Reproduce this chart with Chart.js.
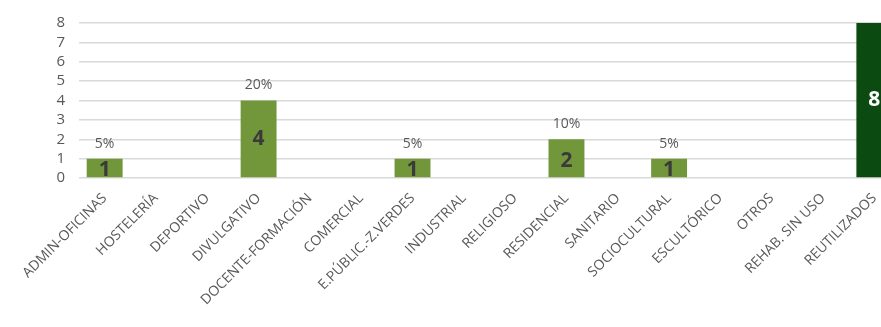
<!DOCTYPE html>
<html>
<head>
<meta charset="utf-8">
<script src="https://cdn.jsdelivr.net/npm/chart.js@4.4.0/dist/chart.umd.min.js"></script>
<style>
  html, body { margin: 0; padding: 0; background: #fff; overflow: hidden; }
  #wrap { width: 900px; height: 327px; position: relative; }
</style>
</head>
<body>
<div id="wrap"><canvas id="usosChart"></canvas></div>
<script>
// Datos del gráfico
const categorias = [
    "ADMIN-OFICINAS", "HOSTELERÍA", "DEPORTIVO", "DIVULGATIVO", "DOCENTE-FORMACIÓN",
    "COMERCIAL", "E.PÚBLIC.-Z.VERDES", "INDUSTRIAL", "RELIGIOSO", "RESIDENCIAL",
    "SANITARIO", "SOCIOCULTURAL", "ESCULTÓRICO", "OTROS", "REHAB. SIN USO", "REUTILIZADOS"
];
const valores = [1, 0, 0, 4, 0, 0, 1, 0, 0, 2, 0, 1, 0, 0, 0, 8];
const porcentajes = ["5%", "", "", "20%", "", "", "5%", "", "", "10%", "", "5%", "", "", "", ""];
const ticksY = [0, 1, 2, 3, 4, 5, 6, 7, 8];

const verdeOliva = "#71973a";
const verdeOscuro = "#0b4b12";

// Plugin: número dentro de la barra y porcentaje encima
const etiquetasBarras = {
    id: "etiquetasBarras",
    afterDatasetsDraw(chart) {
        const ctx = chart.ctx;
        const meta = chart.getDatasetMeta(0);
        ctx.save();
        ctx.textAlign = "center";
        ctx.textBaseline = "middle";
        meta.data.forEach((bar, i) => {
            const v = valores[i];
            if (!v) return;
            const ultimo = i === valores.length - 1;
            // número dentro
            ctx.font = "bold 21px 'Open Sans', sans-serif";
            ctx.fillStyle = ultimo ? "#ffffff" : "#3a3a3a";
            let yNum = (bar.y + bar.base) / 2;
            if (v === 1) yNum = bar.base - 7;
            if (v === 2) yNum = (bar.y + bar.base) / 2 + 3;
            ctx.fillText(String(v), bar.x, yNum);
            // porcentaje encima
            if (porcentajes[i]) {
                ctx.font = "14px 'Open Sans', sans-serif";
                ctx.fillStyle = "#595959";
                ctx.fillText(porcentajes[i], bar.x, bar.y - 15);
            }
        });
        ctx.restore();
    }
};

new Chart(document.getElementById("usosChart"), {
    type: "bar",
    data: {
        labels: categorias,
        datasets: [{
            data: valores,
            backgroundColor: valores.map((v, i) => i === valores.length - 1 ? verdeOscuro : verdeOliva),
            barPercentage: 0.7,
            categoryPercentage: 1.0
        }]
    },
    options: {
        responsive: true,
        maintainAspectRatio: false,
        animation: false,
        layout: { padding: { top: 23, right: 0, left: 0, bottom: 0 } },
        plugins: {
            legend: { display: false },
            tooltip: { enabled: false }
        },
        scales: {
            y: {
                min: 0,
                max: 8,
                afterBuildTicks: (scale) => { scale.ticks = ticksY.map(v => ({ value: v })); },
                afterFit: (scale) => { scale.width = 79; },
                border: { display: false },
                grid: { color: "#d9d9d9", lineWidth: 1.5, drawTicks: false },
                ticks: {
                    autoSkip: false,
                    padding: 14,
                    color: "#595959",
                    font: { family: "'Open Sans', sans-serif", size: 15 }
                }
            },
            x: {
                afterFit: (scale) => { scale.height = 149; },
                border: { display: false },
                grid: { display: false },
                ticks: {
                    autoSkip: false,
                    minRotation: 45,
                    maxRotation: 45,
                    padding: 4,
                    color: "#595959",
                    font: { family: "'Open Sans', sans-serif", size: 14 }
                }
            }
        }
    },
    plugins: [etiquetasBarras]
});
</script>
</body>
</html>
